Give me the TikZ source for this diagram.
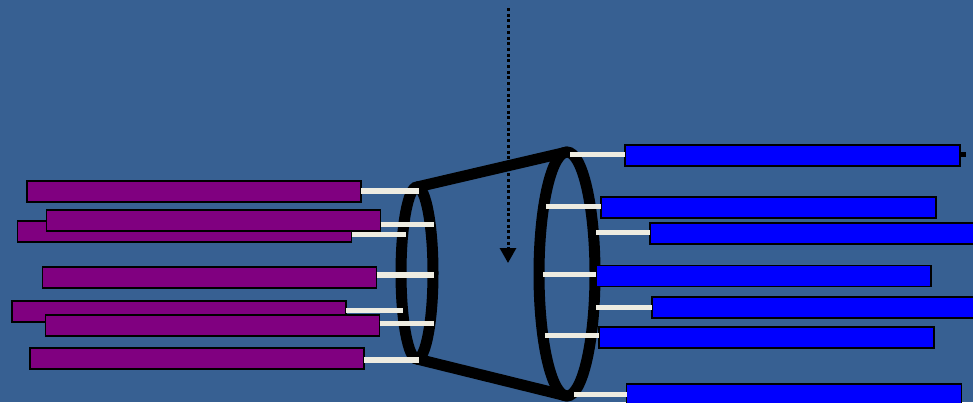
\documentclass[tikz,border=0pt]{standalone}
\usetikzlibrary{shapes.geometric,arrows.meta}
\definecolor{bgblue}{HTML}{376092}
\definecolor{cream}{HTML}{EEECE1}
\definecolor{pviolet}{HTML}{800080}
\definecolor{pblue}{HTML}{0000FF}
\tikzset{
  barbase/.style={draw=black, line width=1.8pt, minimum width=334pt, minimum height=21pt, inner sep=0pt, outer sep=0pt},
  pbar/.style={barbase, fill=pviolet},
  bbar/.style={barbase, fill=pblue},
  wire/.style={draw=cream, line width=5.5pt},
  ring/.style={draw=black, ellipse, line width=11pt, inner sep=0pt, outer sep=0pt},
  rim/.style={draw=black, line width=11pt},
}
\begin{document}
\begin{tikzpicture}[x=1pt, y=-1pt]
\clip (0,0) rectangle (973,402);
\fill[bgblue] (0,0) rectangle (973,402);
% rings
\node[ring, minimum width=32pt, minimum height=172pt] (E1) at (417,273) {};
\node[ring, minimum width=56pt, minimum height=244pt] (E2) at (567,274) {};
\draw[rim] (E1.north) -- (E2.north);
\draw[rim] (E1.south) -- (E2.south);
% end points on the rings
\coordinate (a1) at (419,191);
\coordinate (a3) at (434,224.3);
\coordinate (a2) at (406,234.3);
\coordinate (a4) at (434,275);
\coordinate (a5) at (403,310.3);
\coordinate (a6) at (434,323.3);
\coordinate (a7) at (419,360);
\coordinate (b1) at (570,154.3);
\coordinate (b2) at (546,206.3);
\coordinate (b3) at (596,232.7);
\coordinate (b4) at (543,274.7);
\coordinate (b5) at (596,307.3);
\coordinate (b6) at (545,335.7);
\coordinate (b7) at (574,394.3);
% left bars
\node[pbar] (l1) at (194,191.5) {};
\node[pbar] (l2) at (184.5,231.5) {};
\node[pbar] (l3) at (213.5,220.5) {};
\node[pbar] (l4) at (209.5,277.5) {};
\node[pbar] (l5) at (179,311.5) {};
\node[pbar] (l6) at (212.5,325.5) {};
\node[pbar] (l7) at (197,358.5) {};
% right bars
\node[bbar, minimum width=335pt] (r1) at (792.5,155.5) {};
\node[bbar, minimum width=335pt] (r2) at (768.5,207.5) {};
\node[bbar, minimum width=335pt] (r3) at (817.5,233.5) {};
\node[bbar, minimum width=335pt] (r4) at (763.5,276) {};
\node[bbar, minimum width=335pt] (r5) at (819.5,307.5) {};
\node[bbar, minimum width=335pt] (r6) at (766.5,337.5) {};
\node[bbar, minimum width=335pt] (r7) at (794,394.5) {};
% wires
\draw[wire] (l1.east |- a1) -- (a1);
\draw[wire] (l2.east |- a2) -- (a2);
\draw[wire] (l3.east |- a3) -- (a3);
\draw[wire] (l4.east |- a4) -- (a4);
\draw[wire] (l5.east |- a5) -- (a5);
\draw[wire] (l6.east |- a6) -- (a6);
\draw[wire] (l7.east |- a7) -- (a7);
\draw[wire] (b1) -- (r1.west |- b1);
\draw[wire] (b2) -- (r2.west |- b2);
\draw[wire] (b3) -- (r3.west |- b3);
\draw[wire] (b4) -- (r4.west |- b4);
\draw[wire] (b5) -- (r5.west |- b5);
\draw[wire] (b6) -- (r6.west |- b6);
\draw[wire] (b7) -- (r7.west |- b7);
\draw[black, line width=5.5pt] (r1.east |- b1) -- ++(6,0);
% dotted arrow
\coordinate (d0) at (508,8);
\coordinate (d1) at (508,263);
\draw[black, line width=3pt, dash pattern=on 3pt off 2.7pt, -{Triangle[width=16pt,length=15pt]}] (d0) -- (d1);
\end{tikzpicture}
\end{document}
